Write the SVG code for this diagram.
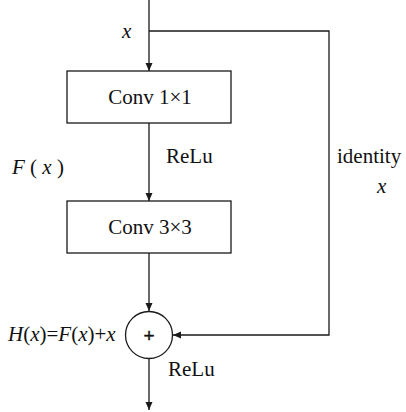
<svg xmlns="http://www.w3.org/2000/svg" width="406" height="412" viewBox="0 0 406 412">
<style>
.ln{fill:none;stroke:#1a1a1a;stroke-width:1.3}
.bx{fill:#fff;stroke:#1a1a1a;stroke-width:1.3}
.t{font-family:"Liberation Serif","Times New Roman",serif;font-size:21px;fill:#111}
.i{font-style:italic}
.p{font-family:"Liberation Sans",Arial,sans-serif;font-size:19px;fill:#111;stroke:#111;stroke-width:0.4}
</style>
<defs>
<marker id="ah" markerWidth="8" markerHeight="8" refX="8" refY="3.5" orient="auto" markerUnits="userSpaceOnUse">
<path d="M0,0 L8,3.5 L0,7 z" fill="#1a1a1a"/>
</marker>
</defs>
<g id="connectors">
<path class="ln" d="M149,0 V71" marker-end="url(#ah)"/>
<path class="ln" d="M149,31 H329 V335 H173" marker-end="url(#ah)"/>
<path class="ln" d="M149,123 V201" marker-end="url(#ah)"/>
<path class="ln" d="M149,253 V311" marker-end="url(#ah)"/>
<path class="ln" d="M149,358.5 V410" marker-end="url(#ah)"/>
</g>
<g id="conv1">
<rect class="bx" x="67" y="71" width="164" height="52"/>
<text class="t" x="150" y="104" text-anchor="middle">Conv 1×1</text>
</g>
<g id="conv3">
<rect class="bx" x="67" y="201" width="164" height="52"/>
<text class="t" x="150" y="234" text-anchor="middle">Conv 3×3</text>
</g>
<g id="sum">
<circle class="bx" cx="149" cy="335" r="23.5"/>
<text class="p" x="149" y="341.5" text-anchor="middle">+</text>
</g>
<g id="labels">
<text class="t i" x="122" y="38">x</text>
<text class="t" x="166" y="163">ReLu</text>
<text class="t" x="12" y="174"><tspan class="i">F</tspan> ( <tspan class="i">x</tspan> )</text>
<text class="t" x="337" y="163">identity</text>
<text class="t i" x="377" y="193">x</text>
<text class="t" x="8" y="341"><tspan class="i">H</tspan>(<tspan class="i">x</tspan>)=<tspan class="i">F</tspan>(<tspan class="i">x</tspan>)+<tspan class="i">x</tspan></text>
<text class="t" x="168" y="376">ReLu</text>
</g>
</svg>
